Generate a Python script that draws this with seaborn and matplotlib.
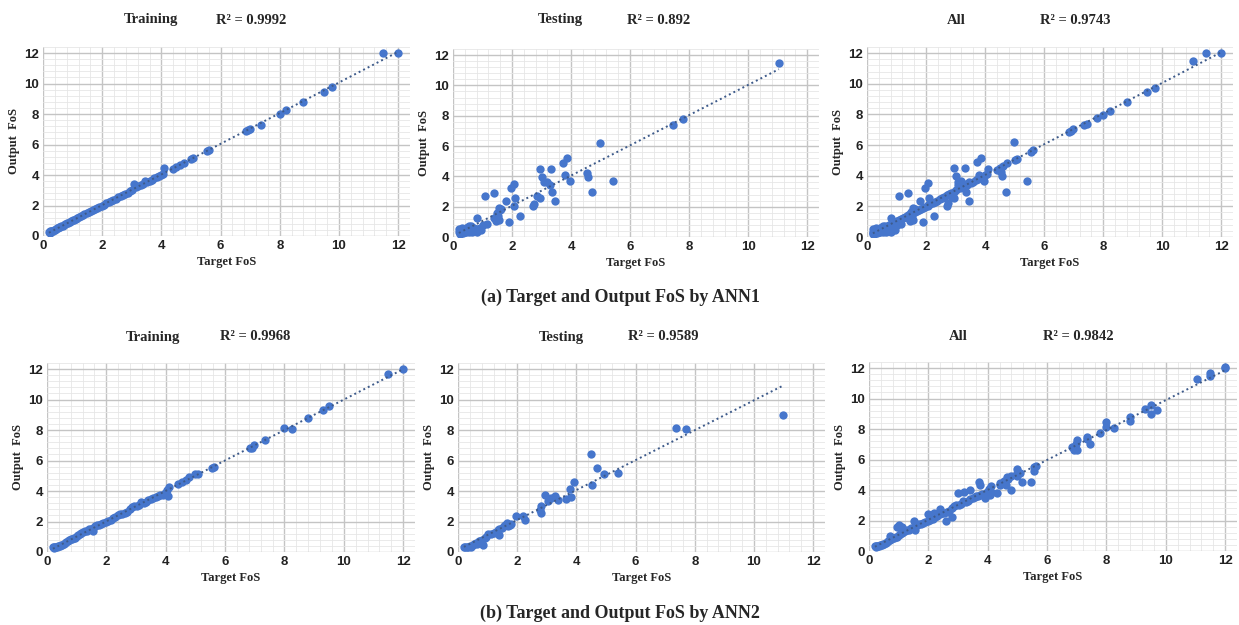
import numpy as np
import matplotlib
matplotlib.use("Agg")
import matplotlib.pyplot as plt
import seaborn as sns
from matplotlib.ticker import MultipleLocator

# ANN1 training
train1_x = [0.20,0.22,0.24,0.26,0.28,0.30,0.33,0.36,0.40,0.43,0.46,0.50,0.54,0.58,0.62,0.66,0.70,0.75,0.80,0.85,
            0.90,0.95,1.00,1.05,1.10,1.16,1.22,1.28,1.34,1.40,1.47,1.54,1.61,1.68,1.75,1.82,1.90,1.98,2.06,2.14,
            2.22,2.30,2.38,2.46,2.54,2.62,2.70,2.78,2.86,2.94,3.02,3.08,3.14,3.22,3.30,3.38,3.45,3.52,3.60,3.68,
            3.76,3.84,3.92,4.00,4.06,4.10,4.40,4.50,4.62,4.75,5.00,5.08,5.55,5.62,6.85,6.92,6.98,7.35,8.00,8.22,
            8.80,9.50,9.75,11.50,12.00]
train1_y = [0.28,0.22,0.30,0.25,0.32,0.33,0.36,0.40,0.42,0.46,0.50,0.52,0.56,0.60,0.64,0.68,0.73,0.78,0.83,0.86,
            0.92,0.96,1.02,1.06,1.12,1.17,1.22,1.29,1.35,1.42,1.48,1.55,1.62,1.70,1.76,1.84,1.90,1.99,2.05,2.15,
            2.24,2.31,2.38,2.45,2.55,2.60,2.72,2.78,2.85,2.92,3.05,3.38,3.20,3.25,3.32,3.40,3.62,3.55,3.62,3.70,
            3.78,3.86,3.94,4.02,4.10,4.45,4.40,4.52,4.65,4.80,5.05,5.10,5.58,5.65,6.88,6.95,7.02,7.30,7.98,8.25,
            8.80,9.45,9.75,12.00,12.00]

# ANN1 testing
test1_x = [0.20,0.22,0.25,0.25,0.30,0.30,0.35,0.35,0.40,0.40,0.45,0.45,0.50,0.50,0.55,0.55,0.60,0.60,0.65,0.70,
           0.70,0.75,0.80,0.85,0.90,0.95,1.00,0.80,1.15,1.07,1.40,1.38,1.44,1.55,1.50,1.55,1.60,1.52,1.62,1.78,
           1.89,1.98,2.08,2.08,2.11,2.28,2.71,2.76,2.85,2.96,2.96,3.02,3.07,3.19,3.30,3.31,3.35,3.45,3.71,3.79,
           3.86,3.98,4.54,4.58,4.71,4.97,5.41,7.45,7.79,11.04]
test1_y = [0.30,0.55,0.20,0.40,0.35,0.60,0.45,0.25,0.30,0.50,0.60,0.35,0.40,0.65,0.70,0.30,0.50,0.75,0.30,0.60,
           0.40,0.45,0.35,0.50,0.60,0.45,0.80,1.25,0.88,2.68,2.90,1.25,1.03,1.14,1.60,1.90,1.75,1.40,1.85,2.35,
           0.99,3.22,3.50,2.06,2.54,1.36,2.02,2.19,2.68,4.50,2.57,3.99,3.60,3.66,3.44,4.50,2.94,2.35,4.87,4.06,
           5.18,3.68,4.25,3.97,2.94,6.18,3.68,7.39,7.78,11.50]

# ANN2 training
train2_x = [0.20,0.22,0.25,0.28,0.30,0.33,0.36,0.40,0.44,0.48,0.52,0.56,0.60,0.65,0.70,0.75,0.80,0.85,0.90,0.95,
            1.00,1.05,1.10,1.16,1.22,1.28,1.34,1.40,1.47,1.54,1.55,1.61,1.68,1.75,1.82,1.90,1.98,2.06,2.14,2.22,
            2.30,2.38,2.46,2.54,2.62,2.70,2.78,2.86,2.94,3.02,3.10,3.18,3.26,3.34,3.42,3.50,3.58,3.66,3.74,3.82,
            3.90,3.98,4.05,4.08,4.12,4.40,4.55,4.70,4.80,5.00,5.10,5.55,5.62,6.85,6.92,6.98,7.35,8.00,8.25,8.80,
            9.30,9.50,11.50,12.00]
train2_y = [0.30,0.35,0.28,0.32,0.30,0.34,0.38,0.38,0.42,0.45,0.48,0.55,0.60,0.66,0.72,0.80,0.85,0.88,0.95,0.92,
            1.05,1.10,1.15,1.22,1.30,1.35,1.40,1.48,1.50,1.60,1.35,1.68,1.75,1.80,1.85,1.90,1.98,2.05,2.12,2.25,
            2.30,2.40,2.48,2.52,2.58,2.65,2.85,2.95,3.00,3.05,3.10,3.30,3.20,3.30,3.40,3.48,3.52,3.60,3.70,3.72,
            3.75,3.85,4.10,3.65,4.25,4.48,4.62,4.75,4.90,5.10,5.15,5.50,5.60,6.80,6.85,7.00,7.35,8.15,8.10,8.80,
            9.30,9.55,11.65,12.00]

# ANN2 testing
test2_x = [0.20,0.25,0.30,0.35,0.40,0.45,0.50,0.55,0.60,0.65,0.70,0.75,0.80,0.85,0.90,0.95,1.00,1.10,1.20,1.30,
           1.35,1.40,1.40,1.50,1.55,1.60,1.65,1.70,1.75,1.80,1.97,2.20,2.25,2.76,2.82,2.82,2.93,3.04,3.15,3.27,
           3.38,3.66,3.77,3.83,3.92,4.51,4.54,4.68,4.92,5.39,7.38,7.72,10.99]
test2_y = [0.35,0.30,0.35,0.30,0.40,0.35,0.45,0.50,0.60,0.55,0.70,0.70,0.80,0.45,0.95,1.00,1.20,1.20,1.25,1.30,
           1.45,1.10,1.50,1.60,1.70,1.80,1.90,1.70,1.75,1.85,2.34,2.34,2.12,2.78,2.99,2.56,3.72,3.32,3.54,3.65,
           3.43,3.48,4.13,3.61,4.57,6.45,4.42,5.51,5.09,5.16,8.11,8.07,8.98]

# extra points seen only in the ANN2 "All" panel
all2_extra_x = [0.70,0.95,1.00,1.10,1.50,2.00,2.20,2.40,2.60,2.80,3.00,3.20,3.40,3.60,3.70,3.75,3.90,4.10,4.30,4.40,
                4.60,4.65,4.80,5.00,5.00,5.15,5.45,5.55,6.90,7.00,7.00,7.35,7.45,7.80,8.00,8.80,9.50,9.70,11.05,11.50,
                12.00]
all2_extra_y = [1.00,1.55,1.70,1.60,2.00,2.40,2.50,2.75,2.00,2.20,3.80,3.90,4.00,3.60,4.55,4.35,3.50,3.90,3.80,4.30,
                4.30,4.85,4.00,5.35,4.90,4.50,4.55,5.25,6.60,6.60,7.30,7.50,7.05,7.75,8.45,8.50,9.00,9.25,11.30,11.45,
                12.05]

all1_x = train1_x + test1_x
all1_y = train1_y + test1_y
all2_x = train2_x + all2_extra_x
all2_y = train2_y + all2_extra_y

names = ['Training', 'Testing', 'All', 'Training', 'Testing', 'All']
r2_labels = ['R² = 0.9992', 'R² = 0.892', 'R² = 0.9743', 'R² = 0.9968', 'R² = 0.9589', 'R² = 0.9842']
captions = ['(a) Target and Output FoS by ANN1', '(b) Target and Output FoS by ANN2']

sns.set_style('white')
plt.rcParams['font.family'] = ['Liberation Serif', 'DejaVu Serif']

W, H = 1239, 625
fig = plt.figure(figsize=(W / 100, H / 100), dpi=100)

# axes boxes in pixels: left, top, right, bottom
boxes = [(43, 47, 410, 236), (453, 49, 819, 237), (867, 47, 1233, 237),
         (47, 363, 415, 552), (458, 363, 825, 552), (869, 362, 1237, 551)]
name_x = [151, 560, 956, 153, 561, 958]
r2_x = [251, 659, 1075, 255, 663, 1078]
title_y = [20, 20, 20, 337, 337, 337]

data = [(train1_x, train1_y), (test1_x, test1_y), (all1_x, all1_y),
        (train2_x, train2_y), (test2_x, test2_y), (all2_x, all2_y)]

dot = '#4676CC'
for i, (xs, ys) in enumerate(data):
    l, t, r, b = boxes[i]
    ax = fig.add_axes([l / W, 1 - b / H, (r - l) / W, (b - t) / H])
    sns.regplot(x=np.array(xs), y=np.array(ys), ax=ax, ci=None,
                scatter_kws=dict(s=36, color=dot, edgecolor=dot, linewidths=0, alpha=1, zorder=3),
                line_kws=dict(color='#3D5A8A', ls=(0, (1, 1.6)), lw=1.4, zorder=4))
    ax.set_xlim(0, 12.4)
    ax.set_ylim(0, 12.4)
    ax.xaxis.set_major_locator(MultipleLocator(2))
    ax.yaxis.set_major_locator(MultipleLocator(2))
    ax.xaxis.set_minor_locator(MultipleLocator(0.4))
    ax.yaxis.set_minor_locator(MultipleLocator(0.4))
    ax.grid(which='major', color='#C4C4C4', lw=1.0)
    ax.grid(which='minor', color='#E6E6E6', lw=0.6)
    ax.set_axisbelow(True)
    for s in ax.spines.values():
        s.set_visible(False)
    ax.tick_params(which='both', length=0, pad=3)
    for lab in ax.get_xticklabels() + ax.get_yticklabels():
        lab.set_fontfamily('Liberation Sans')
        lab.set_fontweight('bold')
        lab.set_fontsize(9.5)
        lab.set_color('#222222')
    ax.set_xlabel('Target FoS', fontsize=9, fontweight='bold', labelpad=3)
    ax.set_ylabel('Output  FoS', fontsize=9, fontweight='bold', labelpad=3)
    fig.text(name_x[i] / W, 1 - title_y[i] / H, names[i], ha='center', va='center',
             fontsize=10.5, fontweight='bold')
    fig.text(r2_x[i] / W, 1 - title_y[i] / H, r2_labels[i], ha='center', va='center',
             fontsize=10.5, fontweight='bold')

fig.text(620 / W, 1 - 297 / H, captions[0], ha='center', va='center', fontsize=13, fontweight='bold')
fig.text(620 / W, 1 - 613 / H, captions[1], ha='center', va='center', fontsize=13, fontweight='bold')

fig.savefig('out.png', dpi=100, facecolor='white')
